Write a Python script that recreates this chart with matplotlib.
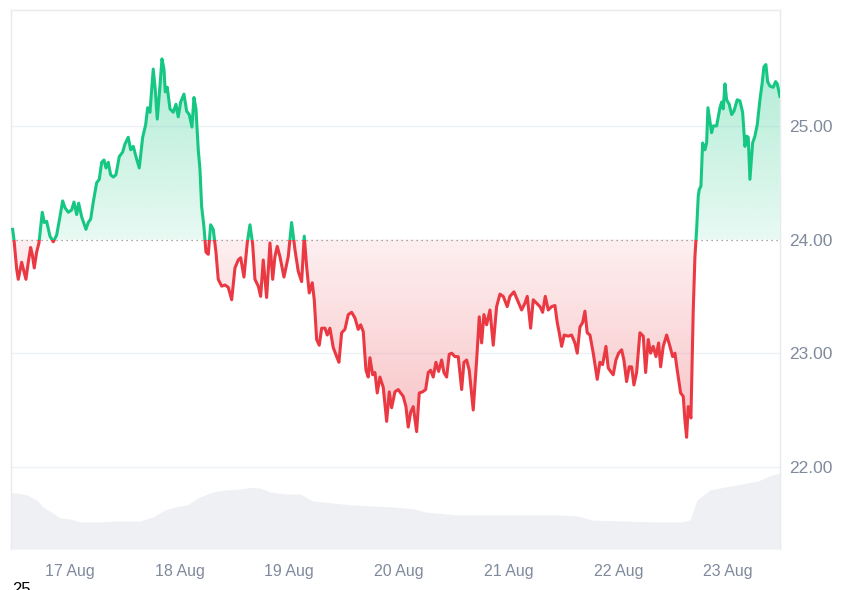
import numpy as np
import matplotlib
matplotlib.use("Agg")
import matplotlib.pyplot as plt
from matplotlib.path import Path
from matplotlib.patches import Rectangle
from matplotlib.ticker import FuncFormatter

plt.rcParams['font.family'] = ['Liberation Sans', 'DejaVu Sans']

# ---- data (hours relative to 17 Aug 00:00) ----
hours = [-12.54, -12.25, -11.66, -11.31, -10.57, -10.06, -9.63, -9.12, -8.60, -8.25,
         -7.81, -7.29, -6.78, -6.06, -5.62, -5.10, -4.38, -3.65, -2.91, -2.19,
         -1.60, -1.09, -0.37, 0.37, 0.88, 1.47, 1.90, 2.56, 3.50, 4.00,
         4.53, 5.10, 5.84, 6.41, 6.94, 7.44, 7.88, 8.38, 8.90, 9.47,
         10.06, 10.79, 11.53, 12.03, 12.75, 13.28, 13.85, 14.44, 15.16, 15.91,
         16.56, 17.00, 17.50, 18.22, 18.66, 19.10, 19.69, 20.13, 20.57, 20.85,
         21.29, 21.88, 22.60, 23.19, 23.69, 24.22, 24.94, 25.53, 26.10, 26.69,
         27.13, 27.57, 28.07, 28.44, 28.81, 29.32, 29.75, 30.26, 30.78, 31.35,
         31.94, 32.44, 33.19, 33.91, 34.63, 35.38, 36.10, 36.82, 37.35, 38.07,
         38.79, 39.38, 39.97, 40.47, 41.20, 41.72, 42.29, 43.03, 43.76, 44.35,
         44.85, 45.35, 45.94, 46.82, 47.76, 48.50, 49.23, 49.95, 50.69, 51.26,
         51.79, 52.35, 53.01, 53.45, 53.97, 54.54, 55.07, 55.79, 56.29, 56.88,
         57.60, 58.35, 58.85, 59.44, 60.16, 60.89, 61.63, 62.35, 63.07, 63.60,
         64.17, 64.76, 65.26, 65.63, 66.22, 66.73, 67.23, 67.82, 68.54, 69.29,
         69.86, 70.38, 71.10, 71.82, 72.35, 72.92, 73.51, 74.01, 74.54, 75.11,
         75.85, 76.42, 77.16, 77.82, 78.39, 78.91, 79.48, 80.07, 80.66, 81.32,
         81.82, 82.41, 82.98, 83.51, 84.23, 84.95, 85.70, 86.20, 86.79, 87.36,
         88.23, 88.98, 89.55, 90.07, 90.57, 91.16, 91.89, 92.61, 93.35, 94.08,
         94.80, 95.67, 96.26, 97.14, 98.08, 98.82, 99.54, 100.05, 100.79, 101.36,
         102.10, 102.83, 103.42, 103.99, 104.64, 105.39, 106.11, 106.61, 107.05, 107.58,
         108.14, 109.02, 109.76, 110.48, 110.99, 111.58, 112.17, 112.67, 113.17, 113.77,
         114.49, 115.36, 115.95, 116.54, 117.27, 117.77, 118.29, 118.86, 119.45, 120.04,
         120.70, 121.20, 121.79, 122.36, 122.89, 123.39, 123.98, 124.70, 125.43, 125.95,
         126.52, 127.04, 127.61, 128.21, 128.79, 129.23, 129.80, 130.55, 131.27, 131.86,
         132.36, 132.87, 133.61, 134.18, 134.55, 134.92, 135.27, 135.86, 136.37, 136.74,
         137.11, 137.46, 137.68, 138.05, 138.42, 138.93, 139.30, 139.58, 140.02, 140.39,
         140.74, 141.48, 142.21, 142.58, 142.93, 143.30, 143.67, 144.24, 144.77, 145.27,
         145.99, 146.58, 147.17, 147.68, 148.05, 148.40, 148.77, 149.36, 149.86, 150.37,
         150.96, 151.46, 151.83, 152.27, 152.64, 153.15, 153.87, 154.39, 154.75, 155.33]

prices = [24.09, 24.00, 23.74, 23.65, 23.80, 23.72, 23.65, 23.80, 23.93, 23.87,
          23.75, 23.89, 23.97, 24.24, 24.15, 24.16, 24.03, 23.98, 24.04, 24.20,
          24.34, 24.28, 24.24, 24.26, 24.33, 24.22, 24.32, 24.20, 24.09, 24.15,
          24.18, 24.33, 24.50, 24.53, 24.68, 24.70, 24.63, 24.68, 24.57, 24.55,
          24.57, 24.73, 24.77, 24.84, 24.90, 24.79, 24.82, 24.73, 24.63, 24.90,
          25.01, 25.16, 25.12, 25.50, 25.32, 25.06, 25.35, 25.59, 25.50, 25.30,
          25.34, 25.15, 25.12, 25.19, 25.08, 25.21, 25.28, 25.13, 25.10, 24.99,
          25.25, 25.15, 24.79, 24.62, 24.29, 24.11, 23.89, 23.87, 24.13, 24.09,
          23.89, 23.65, 23.59, 23.60, 23.58, 23.47, 23.75, 23.82, 23.84, 23.67,
          23.97, 24.13, 23.96, 23.65, 23.59, 23.50, 23.82, 23.49, 23.97, 23.65,
          23.85, 23.94, 23.85, 23.67, 23.85, 24.15, 23.91, 23.72, 23.63, 24.03,
          23.76, 23.53, 23.62, 23.47, 23.12, 23.07, 23.22, 23.22, 23.16, 23.22,
          23.05, 22.97, 22.92, 23.18, 23.21, 23.34, 23.36, 23.31, 23.21, 23.25,
          23.19, 22.85, 22.79, 22.96, 22.81, 22.83, 22.65, 22.79, 22.70, 22.40,
          22.66, 22.52, 22.66, 22.68, 22.65, 22.62, 22.53, 22.35, 22.48, 22.53,
          22.31, 22.65, 22.66, 22.68, 22.83, 22.85, 22.79, 22.92, 22.84, 22.94,
          22.83, 22.79, 22.99, 23.00, 22.97, 22.97, 22.68, 22.92, 22.94, 22.85,
          22.50, 22.94, 23.32, 23.09, 23.34, 23.25, 23.38, 23.07, 23.41, 23.52,
          23.50, 23.41, 23.50, 23.54, 23.45, 23.38, 23.44, 23.50, 23.22, 23.47,
          23.44, 23.41, 23.36, 23.50, 23.38, 23.41, 23.42, 23.27, 23.18, 23.06,
          23.16, 23.15, 23.16, 23.09, 23.00, 23.23, 23.27, 23.37, 23.18, 23.16,
          23.00, 22.77, 22.92, 22.90, 23.06, 22.87, 22.84, 22.81, 22.94, 23.00,
          23.03, 22.94, 22.75, 22.88, 22.88, 22.72, 22.83, 23.18, 23.15, 22.83,
          23.12, 23.00, 23.06, 22.97, 23.09, 22.88, 23.06, 23.16, 23.06, 22.97,
          23.00, 22.85, 22.65, 22.62, 22.41, 22.26, 22.53, 22.43, 23.38, 23.85,
          24.09, 24.38, 24.44, 24.47, 24.85, 24.79, 24.85, 25.16, 25.04, 24.94,
          25.00, 25.00, 25.16, 25.21, 25.15, 25.37, 25.23, 25.19, 25.10, 25.13,
          25.23, 25.22, 25.12, 24.82, 24.91, 24.90, 24.53, 24.85, 24.91, 25.01,
          25.23, 25.38, 25.52, 25.54, 25.39, 25.35, 25.34, 25.39, 25.37, 25.26]

vol_hours = [-13.13, -11.60, -9.41, -7.22, -5.91, -3.72, -2.19, 0.0, 2.19, 6.56,
             9.85, 15.31, 18.16, 20.78, 22.97, 25.60, 28.44, 31.29, 33.91, 37.19,
             39.38, 41.57, 43.76, 47.04, 50.32, 53.17, 57.54, 61.92, 66.29, 70.67,
             75.48, 77.67, 84.89, 92.33, 99.54, 106.76, 111.14, 114.20, 121.42, 128.64,
             133.46, 135.65, 137.18, 140.02, 143.30, 147.02, 150.52, 153.58, 155.33]
volumes = [67.8, 67.5, 65.1, 59.0, 50.6, 43.4, 37.4, 36.2, 32.5, 32.5,
           33.7, 33.7, 38.6, 47.0, 50.6, 53.0, 62.7, 68.7, 71.1, 72.3,
           74.1, 73.5, 68.7, 66.3, 66.3, 57.8, 55.4, 53.0, 51.8, 50.6,
           48.2, 44.6, 41.0, 41.0, 41.0, 41.0, 39.8, 34.9, 33.7, 32.5,
           32.5, 34.9, 59.0, 71.1, 74.7, 78.3, 81.9, 89.2, 91.6]

tick_hours = [0, 24, 48, 72, 96, 120, 144]
tick_labels = ["17 Aug", "18 Aug", "19 Aug", "20 Aug", "21 Aug", "22 Aug", "23 Aug"]
y_ticks = [22, 23, 24, 25]
baseline = 24.00

GREEN = "#16c784"
RED = "#ea3943"
LABEL = "#808a9d"
GRID = "#eff2f5"

W, H = 850, 590
fig = plt.figure(figsize=(W / 100, H / 100), dpi=100)
fig.patch.set_facecolor("white")

L, R, T, B = 11, 780, 10, 549
xlim = (-12.9, 155.35)

# volume axes (behind)
vtop = 466
axv = fig.add_axes([L / W, 1 - B / H, (R - L) / W, (B - vtop) / H])
axv.fill_between(vol_hours, 0, volumes, color="#eef0f4", lw=0)
axv.set_xlim(*xlim)
axv.set_ylim(0, 100)
axv.axis("off")

ax = fig.add_axes([L / W, 1 - B / H, (R - L) / W, (B - T) / H])
ax.set_facecolor("none")
ax.set_xlim(*xlim)
ax.set_ylim(21.277, 26.02)

x = np.array(hours)
y = np.array(prices)

# gradient fills
above = ax.fill_between(x, baseline, y, where=y >= baseline, interpolate=True, color="none", lw=0)
below = ax.fill_between(x, baseline, y, where=y <= baseline, interpolate=True, color="none", lw=0)

yy = np.linspace(0, 1, 256).reshape(-1, 1)
top_val, bot_val = 26.02, 21.277
levels = bot_val + (top_val - bot_val) * yy[::-1]  # image row 0 is top

g_rgb = np.array(matplotlib.colors.to_rgb(GREEN))
img_g = np.zeros((256, 1, 4))
img_g[..., :3] = g_rgb
img_g[..., 3] = np.clip(0.10 + (levels - baseline) / 1.6 * 0.24, 0, 0.4)
ig = ax.imshow(img_g, extent=[xlim[0], xlim[1], bot_val, top_val], aspect="auto", zorder=1,
               interpolation="bilinear")
pg = Path.make_compound_path(*above.get_paths())
ig.set_clip_path(pg, transform=ax.transData)

r_rgb = np.array(matplotlib.colors.to_rgb(RED))
img_r = np.zeros((256, 1, 4))
img_r[..., :3] = r_rgb
img_r[..., 3] = np.clip(0.08 + (baseline - levels) / 1.7 * 0.22, 0, 0.35)
ir = ax.imshow(img_r, extent=[xlim[0], xlim[1], bot_val, top_val], aspect="auto", zorder=1,
               interpolation="bilinear")
pr = Path.make_compound_path(*below.get_paths())
ir.set_clip_path(pr, transform=ax.transData)

# gridlines
for v in y_ticks:
    if v == baseline:
        ax.axhline(v, color="#8d8d8d", lw=0.9, ls=(0, (1, 3)), zorder=2)
    else:
        ax.axhline(v, color=GRID, lw=1.0, zorder=0.5)

# line, colored by side of baseline
lg, = ax.plot(x, y, color=GREEN, lw=2.2, zorder=3, solid_joinstyle="round")
lr, = ax.plot(x, y, color=RED, lw=2.2, zorder=3, solid_joinstyle="round")
rect_up = Rectangle((xlim[0], baseline), xlim[1] - xlim[0], 5, transform=ax.transData)
rect_dn = Rectangle((xlim[0], baseline - 5), xlim[1] - xlim[0], 5, transform=ax.transData)
lg.set_clip_path(rect_up)
lr.set_clip_path(rect_dn)

# axes styling
ax.set_xticks(tick_hours)
ax.set_xticklabels(tick_labels)
ax.yaxis.tick_right()
ax.set_yticks(y_ticks)
ax.yaxis.set_major_formatter(FuncFormatter(lambda v, p: f"{v:.2f}"))
ax.tick_params(axis="x", length=0, pad=11, labelsize=11.5, labelcolor=LABEL)
ax.tick_params(axis="y", length=0, pad=6.5, labelsize=12.5, labelcolor=LABEL)
for s in ["top", "left", "right"]:
    ax.spines[s].set_color("#e8eaed")
    ax.spines[s].set_linewidth(1.0)
ax.spines["bottom"].set_visible(False)

fig.text(12 / W, 1 - 582 / H, "25", ha="left", va="top", fontsize=12, color="black")

fig.savefig("out.png", dpi=100, facecolor="white")
